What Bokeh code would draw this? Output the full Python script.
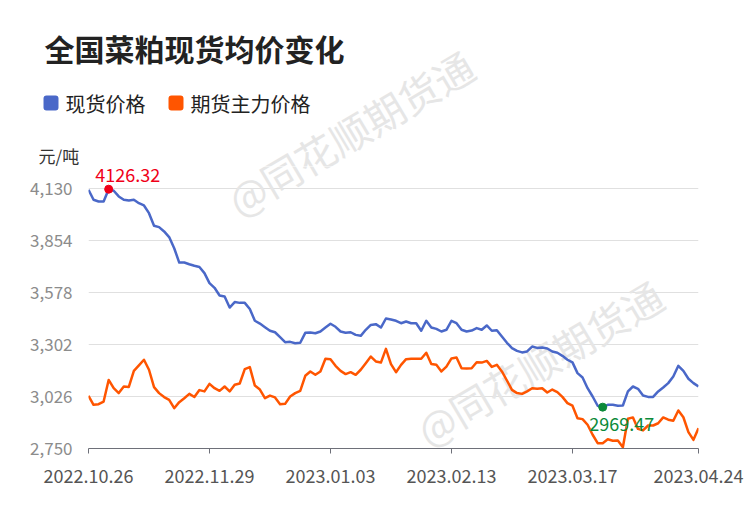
from bokeh.plotting import figure
from bokeh.layouts import column
from bokeh.models import Range1d, FixedTicker, NumeralTickFormatter, Label, BoxAnnotation
from bokeh.core.properties import value
from bokeh.embed import file_html
from bokeh.resources import INLINE

# ---------------- data ----------------
title_text = "全国菜粕现货均价变化"
series_names = ["现货价格", "期货主力价格"]
unit_label = "元/吨"
watermark = "@同花顺期货通"
x_tick_idx = [0, 24, 48, 72, 96, 121]
x_tick_labels = ["2022.10.26", "2022.11.29", "2023.01.03", "2023.02.13", "2023.03.17", "2023.04.24"]
y_ticks = [2750, 3026, 3302, 3578, 3854, 4130]

spot = [4123, 4070, 4061, 4061, 4126.32, 4118, 4088, 4070, 4066, 4070,
        4052, 4040, 3999, 3932, 3925, 3902, 3872, 3813, 3737, 3737,
        3728, 3720, 3713, 3681, 3628, 3603, 3562, 3557, 3498, 3527,
        3523, 3523, 3490, 3428, 3413, 3394, 3375, 3367, 3341, 3314,
        3316, 3309, 3311, 3364, 3366, 3362, 3371, 3392, 3412, 3396,
        3371, 3364, 3367, 3353, 3348, 3380, 3406, 3410, 3392, 3440,
        3435, 3428, 3415, 3424, 3415, 3415, 3375, 3428, 3392, 3385,
        3371, 3380, 3428, 3415, 3380, 3371, 3376, 3389, 3380, 3403,
        3375, 3378, 3344, 3311, 3283, 3268, 3260, 3265, 3291, 3284,
        3286, 3281, 3265, 3258, 3242, 3221, 3207, 3150, 3127, 3070,
        3026, 2977, 2969.47, 2982, 2982, 2977, 2978, 3053, 3079, 3067,
        3031, 3024, 3024, 3053, 3074, 3097, 3132, 3189, 3162, 3120,
        3097, 3079]

futures = [3030, 2982, 2985, 2999, 3114, 3070, 3044, 3079, 3077, 3162,
           3191, 3221, 3168, 3076, 3044, 3023, 3008, 2964, 2996, 3017,
           3040, 3023, 3060, 3053, 3093, 3070, 3056, 3079, 3053, 3088,
           3095, 3171, 3182, 3084, 3063, 3017, 3031, 3021, 2985, 2987,
           3026, 3044, 3056, 3136, 3159, 3141, 3159, 3226, 3224, 3189,
           3162, 3145, 3155, 3141, 3168, 3203, 3238, 3212, 3206, 3279,
           3198, 3155, 3194, 3224, 3226, 3226, 3226, 3258, 3198, 3194,
           3159, 3185, 3228, 3233, 3176, 3175, 3176, 3208, 3206, 3215,
           3183, 3194, 3159, 3111, 3061, 3044, 3040, 3053, 3070, 3067,
           3070, 3047, 3063, 3049, 3024, 2991, 2977, 2911, 2906, 2876,
           2823, 2778, 2778, 2799, 2791, 2792, 2757, 2908, 2915, 2854,
           2846, 2872, 2872, 2884, 2915, 2903, 2897, 2952, 2916, 2837,
           2796, 2858]

idx = list(range(len(spot)))

# ---------------- style / layout ----------------
FONT = "Noto Sans CJK SC"
BLUE = "#4a68c8"
ORANGE = "#ff5500"
W, H = 750, 510
HH = 166                              # header height (title, legend, unit)
FL, FR, FB = 88, 698, 448            # main frame edges in page pixels
X0, X1 = 0, len(spot) - 1
Y0 = 2750.0
UPP = (4130 - 2750) / (448 - 188)    # units per pixel
Y1 = Y0 + (FB - HH) * UPP
WM_TOP = (350, 132)                   # watermark crossing header / chart
WM_LOW = (539, 362)                   # watermark inside chart only
WM_ANGLE = 0.535


def dx(px):
    return X0 + (px - FL) * (X1 - X0) / (FR - FL)


def dy(py):
    return Y0 + (FB - py) * UPP


def wm_label(x, y):
    return Label(x=x, y=y, text=watermark, text_font=FONT, text_font_size="40px",
                 text_color="#e6e6e6", angle=WM_ANGLE, text_align="center",
                 text_baseline="middle", level="underlay")


# ---------------- header figure ----------------
hdr = figure(width=W, height=HH, x_range=Range1d(0, W), y_range=Range1d(HH, 0),
             min_border=0, x_axis_location=None, y_axis_location=None,
             output_backend="svg", toolbar_location=None)
hdr.frame_align = False
hdr.outline_line_color = None
hdr.grid.visible = False
hdr.add_layout(wm_label(*WM_TOP))
hdr.add_layout(Label(x=44, y=47, text=title_text, text_font=FONT,
                     text_font_size="30px", text_font_style="bold", text_color="#222222",
                     text_baseline="middle", text_align="left"))
for sx, name, col in [(43, series_names[0], BLUE), (168, series_names[1], ORANGE)]:
    hdr.add_layout(BoxAnnotation(left=sx, right=sx + 15, top=95, bottom=110,
                                 fill_color=col, fill_alpha=1, line_color=None,
                                 border_radius=3))
    hdr.add_layout(Label(x=sx + 22, y=103, text=name, text_font=FONT,
                         text_font_size="20px", text_color="#222222",
                         text_baseline="middle", text_align="left"))
hdr.add_layout(Label(x=38, y=154.5, text=unit_label, text_font=FONT,
                     text_font_size="17px", text_color="#333333",
                     text_baseline="middle", text_align="left"))

# ---------------- main figure ----------------
p = figure(width=W, height=H - HH, x_range=Range1d(X0, X1), y_range=Range1d(Y0, Y1),
           min_border_left=FL, min_border_right=W - FR, min_border_top=0,
           min_border_bottom=H - FB, output_backend="svg", toolbar_location=None)
p.frame_align = False
p.outline_line_color = None
p.background_fill_color = "white"
p.border_fill_color = "white"

p.xgrid.visible = False
p.ygrid.grid_line_color = "#e0e0e0"
p.ygrid.grid_line_width = 1
p.yaxis.ticker = FixedTicker(ticks=y_ticks)
p.yaxis.formatter = NumeralTickFormatter(format="0,0")
p.yaxis.axis_line_color = None
p.yaxis.major_tick_line_color = None
p.yaxis.minor_tick_line_color = None
p.yaxis.major_label_standoff = 10
p.yaxis.major_label_text_font = FONT
p.yaxis.major_label_text_font_size = "17px"
p.yaxis.major_label_text_color = "#8c8c8c"

p.xaxis.ticker = FixedTicker(ticks=x_tick_idx)
p.xaxis.major_label_overrides = {i: s for i, s in zip(x_tick_idx, x_tick_labels)}
p.xaxis.axis_line_color = "#6e7079"
p.xaxis.major_tick_line_color = "#6e7079"
p.xaxis.minor_tick_line_color = None
p.xaxis.major_tick_out = 5
p.xaxis.major_tick_in = 0
p.xaxis.major_label_standoff = 15
p.xaxis.major_label_text_font = FONT
p.xaxis.major_label_text_font_size = "18px"
p.xaxis.major_label_text_color = "#555555"

for cx, cy in [WM_TOP, WM_LOW]:
    p.add_layout(wm_label(dx(cx), dy(cy)))

p.line(idx, spot, line_color=BLUE, line_width=2.5, line_join="round")
p.line(idx, futures, line_color=ORANGE, line_width=2.5, line_join="round")

imax = spot.index(max(spot))
imin = spot.index(min(spot))
p.scatter([imax], [spot[imax]], size=8, color="#f00018")
p.text([imax], [spot[imax]], text=["%.2f" % spot[imax]], x_offset=19, y_offset=-14,
       text_font=value(FONT), text_font_size="18px", text_color="#f00018",
       text_align="center", text_baseline="middle")
p.scatter([imin], [spot[imin]], size=8, color="#0c8a3a")
p.text([imin], [spot[imin]], text=["%.2f" % spot[imin]], x_offset=19, y_offset=17,
       text_font=value(FONT), text_font_size="18px", text_color="#0c8a3a",
       text_align="center", text_baseline="middle")

layout = column(hdr, p, spacing=0)
open("out.html", "w").write(file_html(layout, INLINE))
